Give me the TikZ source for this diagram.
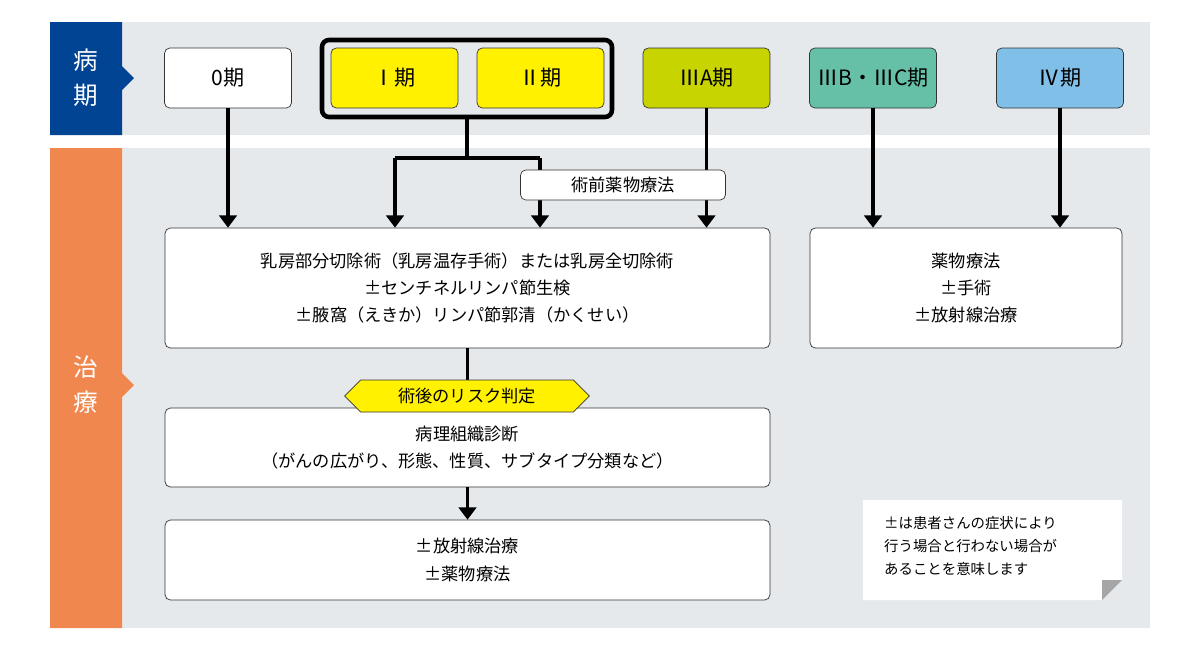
\documentclass[tikz,border=0pt]{standalone}
\usepackage{fontspec}
\setmainfont{Noto Sans CJK JP}
\usetikzlibrary{shapes.misc,shapes.geometric,shapes.symbols,arrows.meta}
\definecolor{bandgray}{HTML}{E6E9EC}
\definecolor{stageblue}{HTML}{004493}
\definecolor{treatorange}{HTML}{EF874E}
\definecolor{stageyellow}{HTML}{FFF100}
\definecolor{stagelime}{HTML}{C8D400}
\definecolor{stageteal}{HTML}{66C0A8}
\definecolor{stagesky}{HTML}{7FBFE8}
\tikzset{
  stage/.style={draw=black!80,rounded corners=3pt,minimum width=2.54cm,minimum height=1.2cm,font=\fontsize{12}{14}\selectfont},
  treat/.style={draw=black!80,rounded corners=3pt,fill=white,align=center,font=\fontsize{9.8}{15.5}\selectfont},
  flow/.style={line width=2.2pt,-{Triangle[length=7pt,width=10pt]}},
  link/.style={line width=2.2pt}
}
\begin{document}
\begin{tikzpicture}[x=0.02cm,y=-0.02cm]
\useasboundingbox (0,0) rectangle (1200,650);
%BAND
\fill[bandgray] (50,22) rectangle (1150,135);
\fill[bandgray] (50,148) rectangle (1150,628);
\fill[stageblue] (50,22) -- (122,22) -- (122,66) -- (134,78) -- (122,90) -- (122,135) -- (50,135) -- cycle;
\fill[treatorange] (50,148) -- (122,148) -- (122,373) -- (134,385) -- (122,397) -- (122,628) -- (50,628) -- cycle;
\node[white,font=\fontsize{14}{20}\selectfont,align=center] (sideA) at (86,78) {病\\期};
\node[white,font=\fontsize{14}{20}\selectfont,align=center] (sideB) at (86,385) {治\\療};

%NODE
\node[stage,fill=white] (S0) at (228,78) {0期};
\node[stage,fill=stageyellow] (S1) at (394.5,78) {Ⅰ期};
\node[stage,fill=stageyellow] (S2) at (540.5,78) {Ⅱ期};
\draw[line width=2.6pt,rounded corners=4pt] (322,40) rectangle (612,117);
\coordinate (G) at (467,117);
\node[stage,fill=stagelime] (S3) at (706.5,78) {ⅢA期};
\node[stage,fill=stageteal] (S4) at (873,78) {ⅢB・ⅢC期};
\node[stage,fill=stagesky] (S5) at (1060,78) {Ⅳ期};

\node[treat,minimum width=12.1cm,minimum height=2.4cm] (T1) at (467.5,288)
  {乳房部分切除術（乳房温存手術）または乳房全切除術\\±センチネルリンパ節生検\\±腋窩（えきか）リンパ節郭清（かくせい）};
\node[treat,minimum width=6.24cm,minimum height=2.4cm] (T2) at (966,288) {薬物療法\\±手術\\±放射線治療};
\node[treat,minimum width=12.1cm,minimum height=1.58cm] (T3) at (467.5,447.5)
  {病理組織診断\\（がんの広がり、形態、性質、サブタイプ分類など）};
\node[treat,minimum width=12.1cm,minimum height=1.6cm] (T4) at (467.5,560) {±放射線治療\\±薬物療法};

%EDGE
\coordinate (J) at (467,158);
\coordinate (JL) at (395,158);
\coordinate (JR) at (540,158);
\draw[flow] (S0) -- (S0 |- T1.north);
\draw[link] (G) -- (J);
\draw[link] (JL) -- (JR);
\draw[flow] (JL) -- (JL |- T1.north);
\draw[flow] (JR) -- (JR |- T1.north);
\draw[flow] (S3) -- (S3 |- T1.north);
\draw[flow] (S4) -- (S4 |- T2.north);
\draw[flow] (S5) -- (S5 |- T2.north);
\draw[link] (T1) -- (T3);
\draw[flow] (T3) -- (T4);

\node[treat,minimum width=4.1cm,minimum height=0.6cm] (pre) at (623,185) {術前薬物療法};
\node[signal,signal to=west and east,draw=black!80,fill=stageyellow,minimum width=4.9cm,minimum height=0.64cm,inner sep=1pt,font=\fontsize{9.8}{11}\selectfont] (risk) at (467,396) {術後のリスク判定};

%NOTE
\fill[white] (863,500) -- (1122,500) -- (1122,580) -- (1102,600) -- (863,600) -- cycle;
\fill[black!35] (1122,580) -- (1102,600) -- (1102,580) -- cycle;
\node[align=left,anchor=north west,font=\fontsize{8.2}{13}\selectfont] (note) at (878,510)
  {±は患者さんの症状により\\行う場合と行わない場合が\\あることを意味します};
\end{tikzpicture}
\end{document}
